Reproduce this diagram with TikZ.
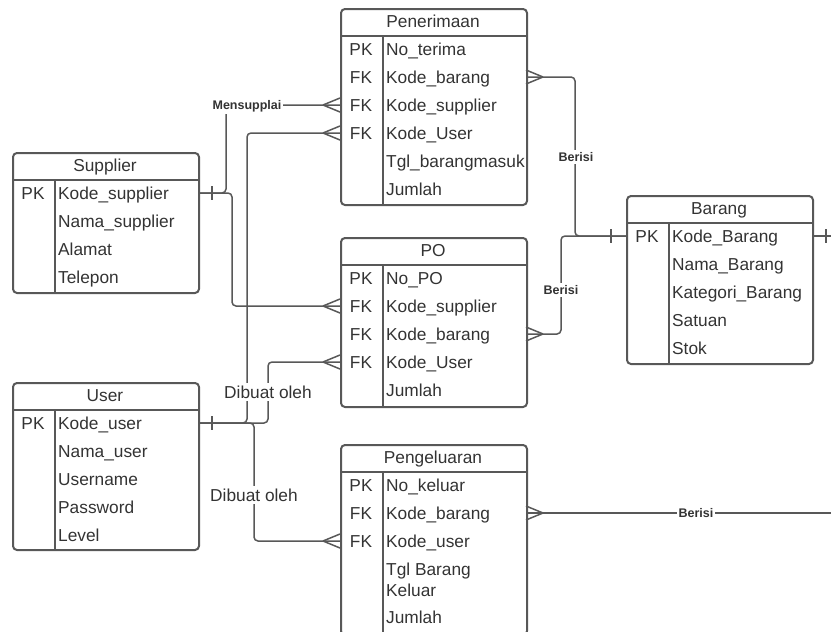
\documentclass[tikz,border=0pt]{standalone}
\usepackage{fontspec}
\setmainfont{Liberation Sans}
\usetikzlibrary{calc}

\definecolor{ink}{RGB}{51,51,51}
\definecolor{edge}{RGB}{88,88,88}

\tikzset{
  entbox/.style={draw=edge, line width=2pt, rounded corners=4pt, inner sep=0pt,
                 minimum width=186pt, anchor=north west},
  entline/.style={draw=edge, line width=2pt},
  keytxt/.style={text=ink, font=\fontsize{17.3}{21}\selectfont, anchor=base, inner sep=0pt},
  fldtxt/.style={text=ink, font=\fontsize{17.3}{21}\selectfont, anchor=base west, inner sep=0pt},
  link/.style={draw=edge, line width=1.5pt, rounded corners=4pt},
  rel/.style={fill=white, text=ink, font=\bfseries\fontsize{12.5}{14}\selectfont, inner sep=2pt},
  relbig/.style={fill=white, text=ink, font=\fontsize{17.3}{20}\selectfont, inner sep=2.5pt},
  % crow's foot (many) opening towards the entity on its right / left
  crowL/.pic={\draw[draw=edge, line width=1.5pt] (-17,0) -- (0,-7) (-17,0) -- (0,7);},
  crowR/.pic={\draw[draw=edge, line width=1.5pt] (17,0) -- (0,-7) (17,0) -- (0,7);},
  % single bar (one)
  onebar/.pic={\draw[draw=edge, line width=1.5pt] (0,-7) -- (0,7);},
}

% entity box: name, left, top, bottom, title
\newcommand\erentity[5]{%
  \node[entbox, minimum height={(#4-#3)*1pt}] (#1) at (#2,#3) {};
  \node[keytxt] (#1-title) at ({#2+93},{#3+19}) {#5};
  \draw[entline] ({#2},{#3+28}) -- ({#2+186},{#3+28});
  \draw[entline] ({#2+43},{#3+28}) -- ({#2+43},{#4});
}
% attribute row: node name, entity left, entity top, row index, key, attribute
\newcommand\erfield[6]{%
  \node[keytxt] (#1k) at ({#2+21},{#3+47+28*(#4-1)}) {#5};
  \node[fldtxt] (#1) at ({#2+46},{#3+47+28*(#4-1)}) {#6};
}

\begin{document}
\begin{tikzpicture}[x=1pt, y=-1pt]
\useasboundingbox (0,0) rectangle (831,632);

% ---------- entities ----------
\erentity{pen}{340}{8}{204}{Penerimaan}
\erfield{pen1}{340}{8}{1}{PK}{No\_terima}
\erfield{pen2}{340}{8}{2}{FK}{Kode\_barang}
\erfield{pen3}{340}{8}{3}{FK}{Kode\_supplier}
\erfield{pen4}{340}{8}{4}{FK}{Kode\_User}
\erfield{pen5}{340}{8}{5}{}{Tgl\_barangmasuk}
\erfield{pen6}{340}{8}{6}{}{Jumlah}

\erentity{sup}{12}{152}{292}{Supplier}
\erfield{sup1}{12}{152}{1}{PK}{Kode\_supplier}
\erfield{sup2}{12}{152}{2}{}{Nama\_supplier}
\erfield{sup3}{12}{152}{3}{}{Alamat}
\erfield{sup4}{12}{152}{4}{}{Telepon}

\erentity{brg}{626}{195}{363}{Barang}
\erfield{brg1}{626}{195}{1}{PK}{Kode\_Barang}
\erfield{brg2}{626}{195}{2}{}{Nama\_Barang}
\erfield{brg3}{626}{195}{3}{}{Kategori\_Barang}
\erfield{brg4}{626}{195}{4}{}{Satuan}
\erfield{brg5}{626}{195}{5}{}{Stok}

\erentity{po}{340}{237}{406}{PO}
\erfield{po1}{340}{237}{1}{PK}{No\_PO}
\erfield{po2}{340}{237}{2}{FK}{Kode\_supplier}
\erfield{po3}{340}{237}{3}{FK}{Kode\_barang}
\erfield{po4}{340}{237}{4}{FK}{Kode\_User}
\erfield{po5}{340}{237}{5}{}{Jumlah}

\erentity{usr}{12}{382}{549}{User}
\erfield{usr1}{12}{382}{1}{PK}{Kode\_user}
\erfield{usr2}{12}{382}{2}{}{Nama\_user}
\erfield{usr3}{12}{382}{3}{}{Username}
\erfield{usr4}{12}{382}{4}{}{Password}
\erfield{usr5}{12}{382}{5}{}{Level}

\erentity{peng}{340}{444}{634}{Pengeluaran}
\erfield{peng1}{340}{444}{1}{PK}{No\_keluar}
\erfield{peng2}{340}{444}{2}{FK}{Kode\_barang}
\erfield{peng3}{340}{444}{3}{FK}{Kode\_user}
\erfield{peng4}{340}{444}{4}{}{Tgl Barang}
\node[fldtxt] (peng4b) at (386,596) {Keluar};
\node[fldtxt] (peng5) at (386,623) {Jumlah};

% ---------- attachment points ----------
\coordinate (supK)  at (198,193);
\coordinate (usrK)  at (198,423);
\coordinate (penB)  at (526,77);
\coordinate (penS)  at (340,105);
\coordinate (penU)  at (340,133);
\coordinate (poS)   at (340,306);
\coordinate (poB)   at (526,334);
\coordinate (poU)   at (340,362);
\coordinate (pengB) at (526,513);
\coordinate (pengU) at (340,541);
\coordinate (brgL)  at (626,236);
\coordinate (brgR)  at (812,236);
\coordinate (outA)  at (832,236);
\coordinate (outB)  at (832,513);

% ---------- relationships ----------
\draw[link] (supK) -| (226,105) -- (penS);
\draw[link] (supK) -| (232,306) -- (poS);
\draw[link] (usrK) -| (247,133) -- (penU);
\draw[link] (usrK) -| (268,362) -- (poU);
\draw[link] (usrK) -| (254,541) -- (pengU);
\draw[link] (penB) -| (575,236) -- (brgL);
\draw[link] (poB)  -| (561,236) -- (brgL);
\draw[link] (brgR) -- (outA);
\draw[link] (pengB) -- (outB);

% cardinality marks
\pic at (penS)  {crowL};
\pic at (penU)  {crowL};
\pic at (poS)   {crowL};
\pic at (poU)   {crowL};
\pic at (pengU) {crowL};
\pic at (penB)  {crowR};
\pic at (poB)   {crowR};
\pic at (pengB) {crowR};
\pic at (212,193) {onebar};
\pic at (212,423) {onebar};
\pic at (611,236) {onebar};
\pic at (826,236) {onebar};

% relationship labels
\node[rel] (lbSup)  at (247,106) {Mensupplai};
\node[rel] (lbPen)  at (576,157) {Berisi};
\node[rel] (lbPo)   at (561,290) {Berisi};
\node[rel] (lbPeng) at (696,513) {Berisi};
\node[relbig] (lbUsr1) at (268,392) {Dibuat oleh};
\node[relbig] (lbUsr2) at (254,495) {Dibuat oleh};
\end{tikzpicture}
\end{document}
